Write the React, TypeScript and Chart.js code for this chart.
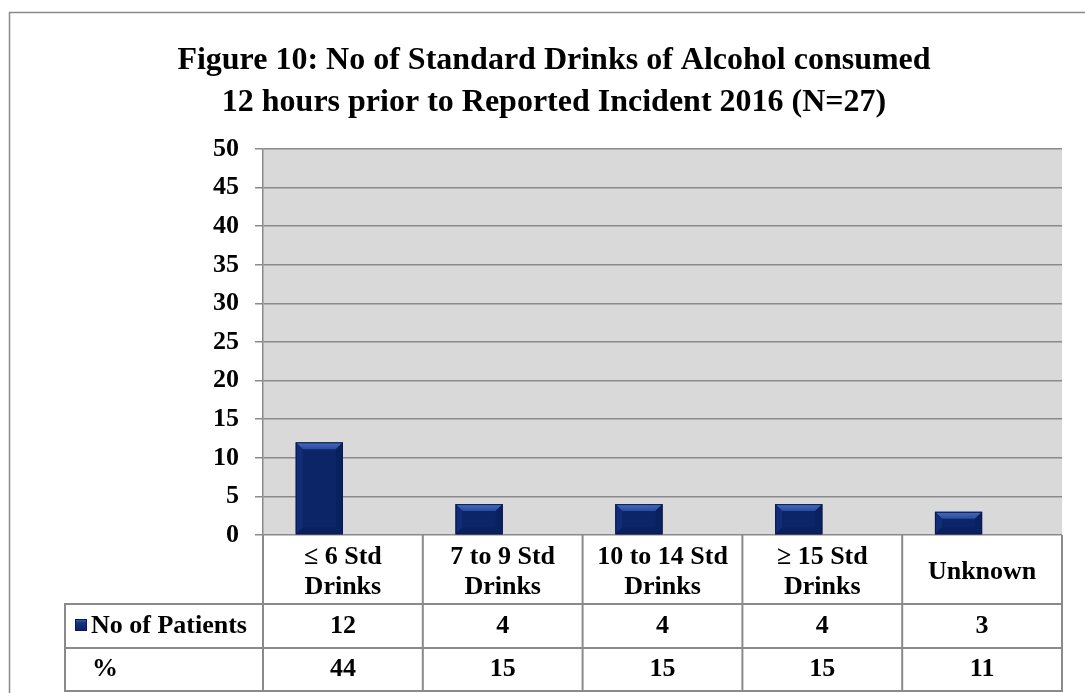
import React, { useEffect, useRef } from "react";
import { Chart, registerables } from "chart.js";

Chart.register(...registerables);

// ---------- data ----------
const categories: string[][] = [
  ["≤ 6 Std", "Drinks"],
  ["7 to 9 Std", "Drinks"],
  ["10 to 14 Std", "Drinks"],
  ["≥ 15 Std", "Drinks"],
  ["Unknown"],
];
const patients = [12, 4, 4, 4, 3];
const percents = [44, 15, 15, 15, 11];
const seriesNames = ["No of Patients", "%"];
const titleLines = [
  "Figure 10: No of Standard Drinks of Alcohol consumed",
  "12 hours prior to Reported Incident 2016 (N=27)",
];
const yMin = 0;
const yMax = 50;
const yStep = 5;

// ---------- style ----------
const FONT = '"Liberation Serif", "Times New Roman", serif';
const GRID = "#8a8a8a";
const NAVY = "#0c2567";
const CANVAS_W = 1108;
const CANVAS_H = 700;
const PAD_LEFT = 46;

const backgroundPlugin = {
  id: "bg",
  beforeDraw(chart: any) {
    const { ctx, chartArea } = chart;
    ctx.save();
    ctx.fillStyle = "#ffffff";
    ctx.fillRect(0, 0, chart.width, chart.height);
    ctx.fillStyle = "#d9d9d9";
    ctx.fillRect(chartArea.left, chartArea.top, chartArea.right - chartArea.left, chartArea.bottom - chartArea.top);
    ctx.restore();
  },
};

function drawBevel(ctx: CanvasRenderingContext2D, l: number, t: number, r: number, b: number) {
  const bv = Math.min(7, (b - t) / 3, (r - l) / 4);
  ctx.save();
  // top facet
  const g = ctx.createLinearGradient(0, t, 0, t + bv);
  g.addColorStop(0, "#4a6cbd");
  g.addColorStop(1, "#284a9f");
  ctx.fillStyle = g;
  ctx.beginPath();
  ctx.moveTo(l, t);
  ctx.lineTo(r, t);
  ctx.lineTo(r - bv, t + bv);
  ctx.lineTo(l + bv, t + bv);
  ctx.closePath();
  ctx.fill();
  // left facet
  ctx.fillStyle = "#112d75";
  ctx.beginPath();
  ctx.moveTo(l, t);
  ctx.lineTo(l + bv, t + bv);
  ctx.lineTo(l + bv, b - bv);
  ctx.lineTo(l, b);
  ctx.closePath();
  ctx.fill();
  // right facet
  ctx.fillStyle = "#0a2160";
  ctx.beginPath();
  ctx.moveTo(r, t);
  ctx.lineTo(r - bv, t + bv);
  ctx.lineTo(r - bv, b - bv);
  ctx.lineTo(r, b);
  ctx.closePath();
  ctx.fill();
  // bottom facet
  ctx.fillStyle = "#0a2060";
  ctx.beginPath();
  ctx.moveTo(l, b);
  ctx.lineTo(l + bv, b - bv);
  ctx.lineTo(r - bv, b - bv);
  ctx.lineTo(r, b);
  ctx.closePath();
  ctx.fill();
  ctx.strokeStyle = "#071a4c";
  ctx.lineWidth = 1;
  ctx.strokeRect(l + 0.5, t + 0.5, r - l - 1, b - t - 1);
  ctx.restore();
}

const bevelPlugin = {
  id: "bevel",
  afterDatasetsDraw(chart: any) {
    const meta = chart.getDatasetMeta(0);
    const ctx = chart.ctx;
    meta.data.forEach((el: any) => {
      const { x, y, base, width } = el.getProps(["x", "y", "base", "width"], true);
      drawBevel(ctx, x - width / 2, y, x + width / 2, base);
    });
  },
};

const tablePlugin = {
  id: "dataTable",
  afterDraw(chart: any) {
    const { ctx, chartArea } = chart;
    const xs = chart.scales.x;
    const n = categories.length;
    const colW = xs.getPixelForValue(1) - xs.getPixelForValue(0);
    const headerTop = chartArea.bottom;
    const headerBottom = headerTop + 69;
    const row2Bottom = headerBottom + 44;
    const row3Bottom = row2Bottom + 43;
    const legendLeft = 65;

    ctx.save();
    // outer frame of chart object
    ctx.strokeStyle = GRID;
    ctx.lineWidth = 1.5;
    ctx.strokeRect(9.5, 12.5, chart.width + 40, chart.height + 40);

    ctx.strokeStyle = GRID;
    ctx.lineWidth = 2;
    ctx.beginPath();
    for (let i = 0; i <= n; i++) {
      const bx = xs.getPixelForValue(0) - colW / 2 + i * colW;
      ctx.moveTo(bx, headerTop);
      ctx.lineTo(bx, row3Bottom);
    }
    ctx.moveTo(legendLeft, headerBottom);
    ctx.lineTo(legendLeft, row3Bottom);
    [headerBottom, row2Bottom, row3Bottom].forEach((yy) => {
      ctx.moveTo(legendLeft - 1, yy);
      ctx.lineTo(chartArea.right + 1, yy);
    });
    ctx.stroke();

    ctx.fillStyle = "#000";
    ctx.font = `bold 26px ${FONT}`;
    ctx.textAlign = "center";
    ctx.textBaseline = "middle";
    const headerMid = (headerTop + headerBottom) / 2 + 2.5;
    const lineH = 30;
    categories.forEach((lines, i) => {
      const cx = xs.getPixelForValue(i);
      const start = headerMid - ((lines.length - 1) * lineH) / 2;
      lines.forEach((ln, j) => ctx.fillText(ln, cx, start + j * lineH));
      ctx.fillText(String(patients[i]), cx, (headerBottom + row2Bottom) / 2);
      ctx.fillText(String(percents[i]), cx, (row2Bottom + row3Bottom) / 2);
    });

    // legend keys & series names
    ctx.textAlign = "left";
    const r2 = (headerBottom + row2Bottom) / 2;
    const r3 = (row2Bottom + row3Bottom) / 2;
    const kx = 75, ks = 12;
    const ky = r2 - ks / 2 - 1;
    const kg = ctx.createLinearGradient(0, ky, 0, ky + ks);
    kg.addColorStop(0, "#3d5fb0");
    kg.addColorStop(0.35, "#143080");
    kg.addColorStop(1, "#0b2262");
    ctx.fillStyle = kg;
    ctx.fillRect(kx, ky, ks, ks);
    ctx.strokeStyle = "#071a4c";
    ctx.lineWidth = 1;
    ctx.strokeRect(kx + 0.5, ky + 0.5, ks - 1, ks - 1);
    ctx.fillStyle = "#000";
    ctx.fillText(seriesNames[0], kx + ks + 4, r2);
    ctx.fillText(seriesNames[1], 92, r3);
    ctx.restore();
  },
};

export default function App() {
  const ref = useRef<HTMLCanvasElement | null>(null);

  useEffect(() => {
    if (!ref.current) return;
    const chart = new Chart(ref.current, {
      type: "bar",
      data: {
        labels: categories,
        datasets: [
          {
            label: seriesNames[0],
            data: patients,
            backgroundColor: NAVY,
            borderWidth: 0,
          },
          {
            label: seriesNames[1],
            data: percents,
            backgroundColor: "rgba(0,0,0,0)",
            borderWidth: 0,
          },
        ],
      },
      options: {
        responsive: false,
        animation: false,
        devicePixelRatio: 1,
        datasets: {
          bar: { categoryPercentage: 0.59, barPercentage: 1 },
        },
        layout: { padding: { left: PAD_LEFT, right: CANVAS_W - 1062, top: 0, bottom: CANVAS_H - 535 } },
        plugins: {
          legend: { display: false },
          tooltip: { enabled: false },
          title: {
            display: true,
            text: titleLines,
            color: "#000",
            font: { family: FONT, size: 32, weight: "bold", lineHeight: 1.3125 },
            padding: { top: 40, bottom: 25 },
          },
        },
        scales: {
          x: {
            display: false,
          },
          y: {
            min: yMin,
            max: yMax,
            ticks: {
              stepSize: yStep,
              color: "#000",
              padding: 16,
              font: { family: FONT, size: 26, weight: "bold" },
            },
            grid: {
              color: GRID,
              lineWidth: 1.5,
              tickLength: 8,
              drawTicks: true,
            },
            border: { display: true, color: GRID, width: 1.5 },
            afterFit: (scale: any) => {
              scale.width = 263 - PAD_LEFT;
            },
          },
        },
      },
      plugins: [backgroundPlugin, bevelPlugin, tablePlugin],
    });
    return () => chart.destroy();
  }, []);

  return (
    <div
      style={{
        position: "fixed",
        left: 0,
        top: 0,
        width: 1085,
        height: 693,
        overflow: "hidden",
        background: "#fff",
      }}
    >
      <canvas ref={ref} width={CANVAS_W} height={CANVAS_H} style={{ display: "block" }} />
    </div>
  );
}
